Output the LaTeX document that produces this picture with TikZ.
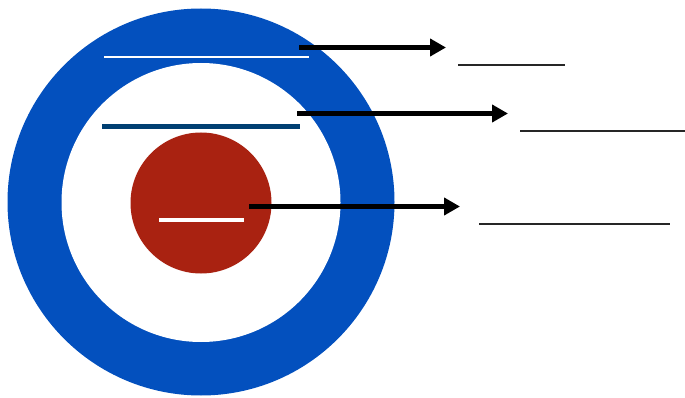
\documentclass[tikz,border=0pt]{standalone}
\usetikzlibrary{arrows.meta}
\definecolor{ringblue}{RGB}{3,80,190}
\definecolor{corered}{RGB}{169,34,17}
\definecolor{navy}{RGB}{0,63,114}
\begin{document}
\begin{tikzpicture}[x=1pt,y=-1pt,
  pointer/.style={line width=5pt,-{Triangle[length=16pt,width=17pt]}},
  blank/.style={line width=2pt,black!85}]
\useasboundingbox (0,0) rectangle (685,398);
\fill[white] (0,0) rectangle (685,398);
% circles
\fill[ringblue] (201,202) circle[radius=193.5];
\fill[white] (201,202.5) circle[radius=139.5];
\fill[corered] (201,203) circle[radius=70.5];
% marker lines
\draw[white,line width=2pt] (104,57) -- (309,57);
\draw[navy,line width=5pt] (102,127) -- (300,127);
\draw[white,line width=4pt] (159,219.5) -- (244,219.5);
% arrow endpoints
\coordinate (a1s) at (299,47.5);
\coordinate (a1e) at (446,47.5);
\coordinate (a2s) at (297,113.5);
\coordinate (a2e) at (508,113.5);
\coordinate (a3s) at (249,206.5);
\coordinate (a3e) at (460,206.5);
\draw[pointer] (a1s) -- (a1e);
\draw[pointer] (a2s) -- (a2e);
\draw[pointer] (a3s) -- (a3e);
% blank lines
\coordinate (b1s) at (458,65);
\coordinate (b1e) at (565,65);
\coordinate (b2s) at (520,131);
\coordinate (b2e) at (685,131);
\coordinate (b3s) at (479,224);
\coordinate (b3e) at (670,224);
\draw[blank] (b1s) -- (b1e);
\draw[blank] (b2s) -- (b2e);
\draw[blank] (b3s) -- (b3e);
\end{tikzpicture}
\end{document}
